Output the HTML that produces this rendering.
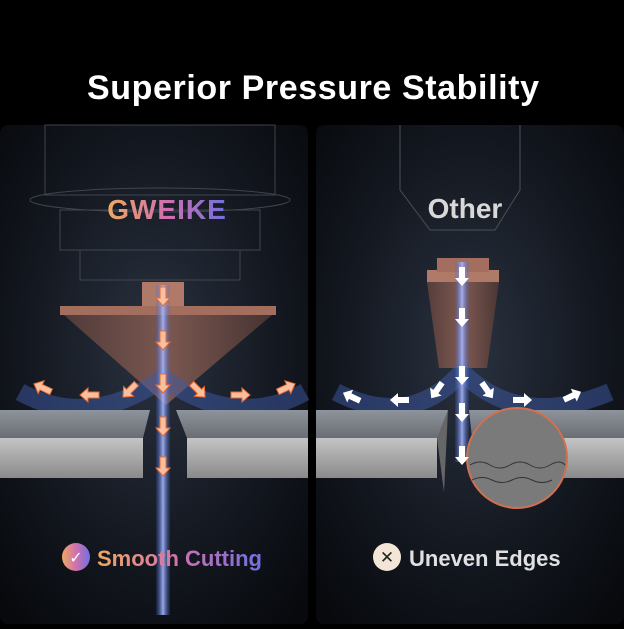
<!DOCTYPE html>
<html><head><style>
body{margin:0;width:624px;height:624px;background:#000;overflow:hidden;font-family:"Liberation Sans",sans-serif}
</style></head><body>
<svg width="624" height="624" viewBox="0 0 624 624">
<defs>
<radialGradient id="pg" cx="0.5" cy="0.45" r="0.7"><stop offset="0" stop-color="#2a3240"/><stop offset="0.6" stop-color="#13171f"/><stop offset="1" stop-color="#07090d"/></radialGradient>
<linearGradient id="cu" x1="0" x2="1"><stop offset="0" stop-color="#5a403c"/><stop offset="0.5" stop-color="#8a5e54"/><stop offset="1" stop-color="#4e3834"/></linearGradient>
<linearGradient id="gw" x1="0" x2="1"><stop offset="0" stop-color="#f0a860"/><stop offset="0.5" stop-color="#d070b0"/><stop offset="1" stop-color="#7070e0"/></linearGradient>
<linearGradient id="beam" x1="0" x2="1"><stop offset="0" stop-color="#4060c0" stop-opacity="0.2"/><stop offset="0.5" stop-color="#a8b8ff"/><stop offset="1" stop-color="#4060c0" stop-opacity="0.2"/></linearGradient>
<linearGradient id="top" x1="0" y1="0" x2="0" y2="1"><stop offset="0" stop-color="#8e949c"/><stop offset="1" stop-color="#6a6e74"/></linearGradient>
<linearGradient id="face" x1="0" y1="0" x2="0" y2="1"><stop offset="0" stop-color="#c4c4c4"/><stop offset="1" stop-color="#8a8a8a"/></linearGradient>
<path id="ar" d="M-9,-3 H2 V-7 L10,0 L2,7 V3 H-9Z"/>
</defs>
<rect width="624" height="624" fill="#000"/>
<text x="313" y="99" fill="#fff" font-size="34" text-anchor="middle" font-weight="bold" font-family="Liberation Sans" textLength="452">Superior Pressure Stability</text>
<rect x="0" y="125" width="308" height="499" rx="8" fill="url(#pg)"/>
<rect x="316" y="125" width="308" height="499" rx="8" fill="url(#pg)"/>
<g stroke="#4a505a" fill="none" stroke-width="1" opacity="0.8">
<rect x="45" y="125" width="230" height="70"/><ellipse cx="160" cy="200" rx="130" ry="12"/><rect x="60" y="210" width="200" height="40"/><rect x="80" y="250" width="160" height="30"/>
</g>
<text x="167" y="219" fill="url(#gw)" font-size="28" font-weight="bold" text-anchor="middle" letter-spacing="1">GWEIKE</text>
<rect x="142" y="282" width="42" height="26" fill="#b07a68"/>
<rect x="60" y="306" width="216" height="9" fill="#a36e5e"/>
<polygon points="64,315 272,315 166,405" fill="url(#cu)" opacity="0.85"/>
<path d="M20,392 Q90,430 163,378 Q236,430 305,392" stroke="#3e5aa8" stroke-width="18" fill="none" opacity="0.5"/>
<polygon points="0,410 150,410 143,438 0,438" fill="url(#top)"/>
<polygon points="0,438 143,438 143,478 0,478" fill="url(#face)"/>
<polygon points="176,410 308,410 308,438 187,438" fill="url(#top)"/>
<polygon points="187,438 308,438 308,478 187,478" fill="url(#face)"/>
<rect x="156" y="285" width="14" height="330" fill="url(#beam)" opacity="0.9"/>
<g fill="#f8c0a0" stroke="#e86a30" stroke-width="1">
<use href="#ar" transform="translate(163,296) rotate(90)"/>
<use href="#ar" transform="translate(163,340) rotate(90)"/>
<use href="#ar" transform="translate(163,383) rotate(90)"/>
<use href="#ar" transform="translate(163,426) rotate(90)"/>
<use href="#ar" transform="translate(163,466) rotate(90)"/>
<use href="#ar" transform="translate(43,388) rotate(205)"/>
<use href="#ar" transform="translate(90,395) rotate(180)"/>
<use href="#ar" transform="translate(130,390) rotate(135)"/>
<use href="#ar" transform="translate(198,390) rotate(45)"/>
<use href="#ar" transform="translate(240,395)"/>
<use href="#ar" transform="translate(286,388) rotate(-25)"/>
</g>
<g stroke="#4a505a" fill="none"><path d="M400,125 V190 L430,230 H495 L520,190 V125"/></g>
<text x="465" y="218" fill="#d8d8d8" font-size="28" font-weight="bold" text-anchor="middle">Other</text>
<rect x="427" y="270" width="72" height="12" fill="#b07a68"/>
<rect x="437" y="258" width="52" height="14" fill="#a36e5e"/>
<polygon points="427,282 499,282 487,368 439,368" fill="url(#cu)" opacity="0.9"/>
<path d="M336,392 Q410,430 462,372 Q520,430 610,392" stroke="#3e5aa8" stroke-width="18" fill="none" opacity="0.5"/>
<polygon points="316,410 448,410 440,438 316,438" fill="url(#top)"/>
<polygon points="316,438 437,438 437,478 316,478" fill="url(#face)"/>
<polygon points="437,438 448,410 444,492" fill="#666"/>
<polygon points="469,410 624,410 624,438 472,438" fill="url(#top)"/>
<polygon points="560,438 624,438 624,478 560,478" fill="url(#face)"/>
<rect x="455" y="262" width="14" height="200" fill="url(#beam)" opacity="0.9"/>
<circle cx="517" cy="458" r="50" fill="#7a7a7a" stroke="#d07050" stroke-width="2"/>
<path d="M470,465 q10,-6 20,0 t20,0 t20,0 t20,0 t15,0 M472,480 q10,-5 20,0 t20,0 t20,0 t20,0" stroke="#333" fill="none"/>
<g fill="#fff">
<use href="#ar" transform="translate(462,276) rotate(90)"/>
<use href="#ar" transform="translate(462,317) rotate(90)"/>
<use href="#ar" transform="translate(462,375) rotate(90)"/>
<use href="#ar" transform="translate(462,412) rotate(90)"/>
<use href="#ar" transform="translate(462,455) rotate(90)"/>
<use href="#ar" transform="translate(352,397) rotate(205)"/>
<use href="#ar" transform="translate(400,400) rotate(180)"/>
<use href="#ar" transform="translate(437,390) rotate(125)"/>
<use href="#ar" transform="translate(487,390) rotate(55)"/>
<use href="#ar" transform="translate(522,400)"/>
<use href="#ar" transform="translate(572,396) rotate(-25)"/>
</g>
<circle cx="76" cy="557" r="14" fill="url(#gw)"/>
<text x="76" y="563" fill="#fff" font-size="16" text-anchor="middle">✓</text>
<text x="97" y="566" fill="url(#gw)" font-size="22" font-weight="bold">Smooth Cutting</text>
<circle cx="387" cy="557" r="14" fill="#f3e6d6"/>
<text x="387" y="563" fill="#222" font-size="17" text-anchor="middle">✕</text>
<text x="409" y="566" fill="#e0e0e0" font-size="22" font-weight="bold">Uneven Edges</text>
</svg>
</body></html>
